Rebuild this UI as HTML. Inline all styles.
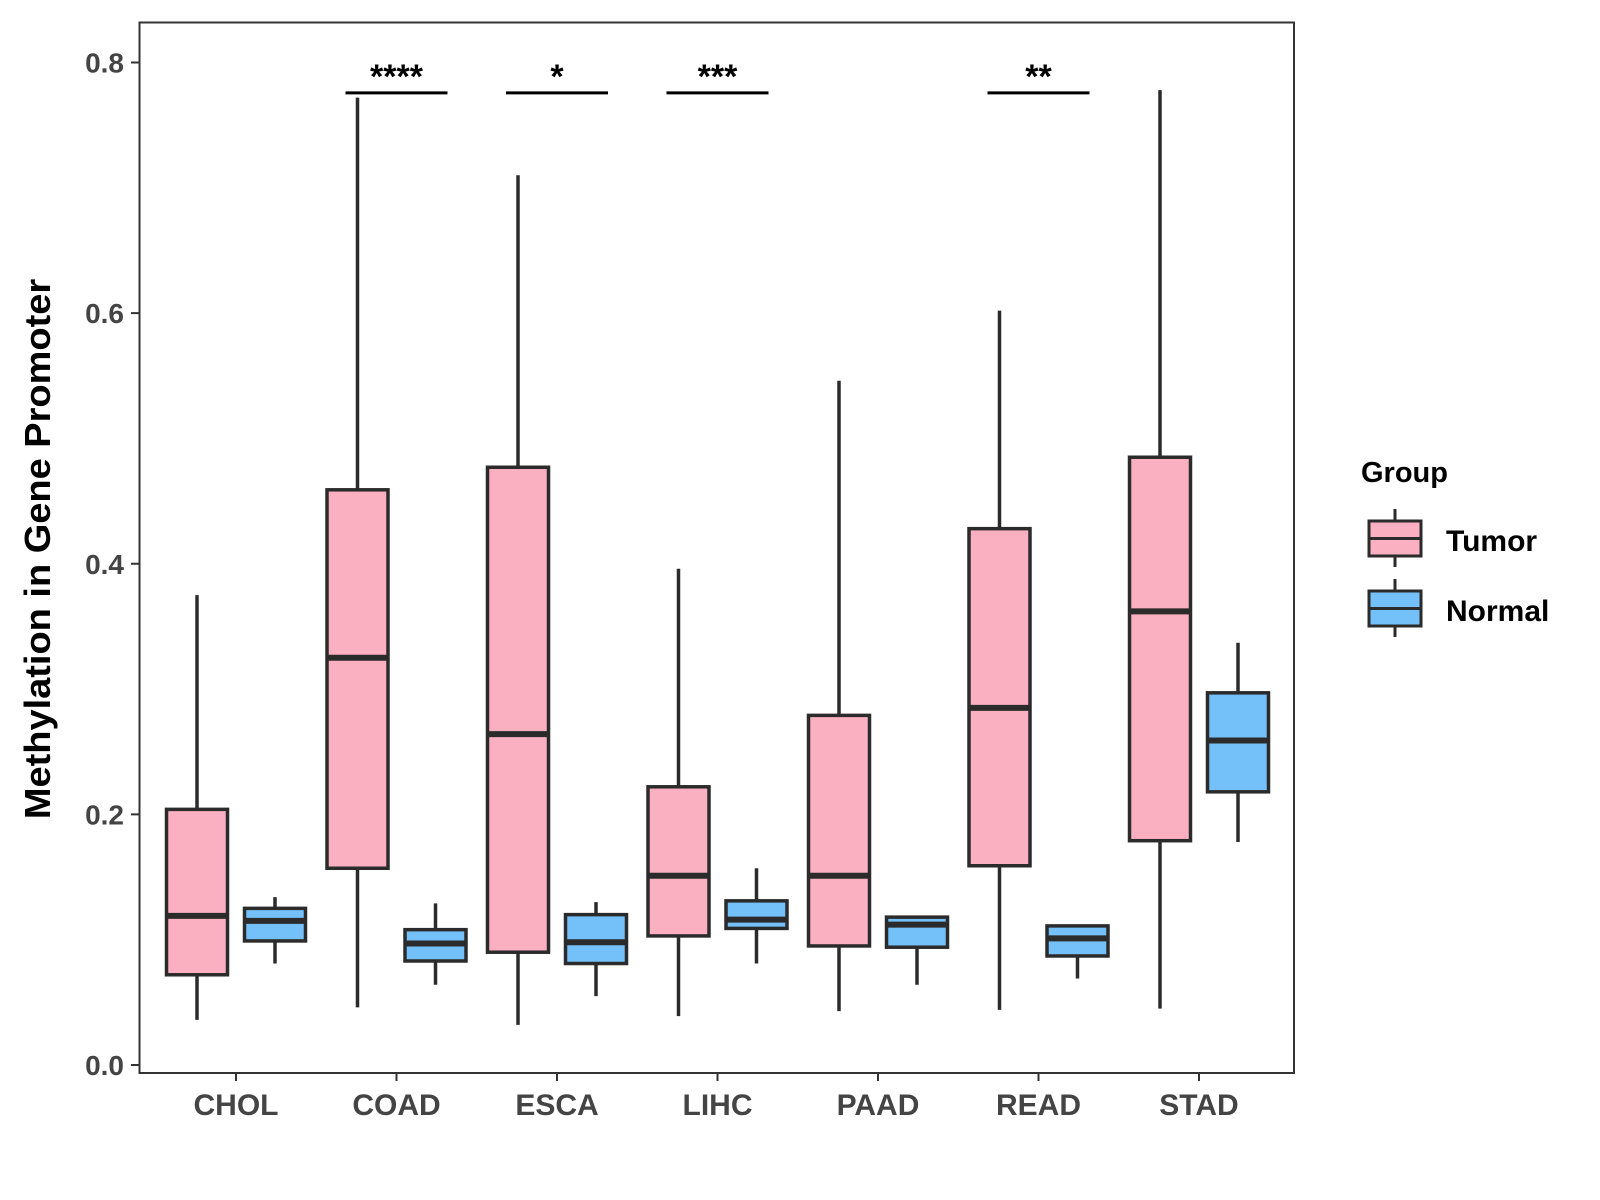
<!DOCTYPE html>
<html><head><meta charset="utf-8"><style>
html,body{margin:0;padding:0;background:#fff;}
svg{display:block;font-family:"Liberation Sans",sans-serif;}
</style></head><body>
<svg id="chart" width="1600" height="1200" viewBox="0 0 1600 1200">
<rect x="139.5" y="22.5" width="1154.5" height="1050.5" fill="#fff" stroke="#333" stroke-width="2"/>
<g id="marks"></g>
<g id="axes"></g>
<text transform="translate(50,549) scale(0.95,1) rotate(-90)" text-anchor="middle" font-size="38" font-weight="bold" fill="#000">Methylation in Gene Promoter</text>
<g transform="translate(-7,0)">
<text x="1368" y="482" font-size="29" font-weight="bold" fill="#000">Group</text>
<g>
<line x1="1402" y1="509" x2="1402" y2="567" stroke="#2b2b2b" stroke-width="3"/>
<rect x="1376" y="521" width="52" height="35" fill="#FBB0C1" stroke="#2b2b2b" stroke-width="3"/>
<line x1="1376" y1="538.5" x2="1428" y2="538.5" stroke="#2b2b2b" stroke-width="3"/>
<text x="1453" y="551" font-size="30" font-weight="bold" fill="#000">Tumor</text>
</g>
<g>
<line x1="1402" y1="579" x2="1402" y2="637" stroke="#2b2b2b" stroke-width="3"/>
<rect x="1376" y="591" width="52" height="35" fill="#74C0F8" stroke="#2b2b2b" stroke-width="3"/>
<line x1="1376" y1="608.5" x2="1428" y2="608.5" stroke="#2b2b2b" stroke-width="3"/>
<text x="1453" y="621" font-size="30" font-weight="bold" fill="#000">Normal</text>
</g>
</g>
</svg>
<script>
const categories = ["CHOL","COAD","ESCA","LIHC","PAAD","READ","STAD"];
// [lower whisker, Q1, median, Q3, upper whisker]
const tumorStats = [
 [0.036,0.072,0.119,0.204,0.375],
 [0.046,0.157,0.325,0.459,0.772],
 [0.032,0.090,0.264,0.477,0.710],
 [0.039,0.103,0.151,0.222,0.396],
 [0.043,0.095,0.151,0.279,0.546],
 [0.044,0.159,0.285,0.428,0.602],
 [0.045,0.179,0.362,0.485,0.778]
];
const normalStats = [
 [0.081,0.099,0.115,0.125,0.134],
 [0.064,0.083,0.097,0.108,0.129],
 [0.055,0.081,0.098,0.120,0.130],
 [0.081,0.109,0.116,0.131,0.157],
 [0.064,0.094,0.112,0.118,0.118],
 [0.069,0.087,0.101,0.111,0.111],
 [0.178,0.218,0.259,0.297,0.337]
];
const yTicks = [0.0,0.2,0.4,0.6,0.8];
const yTickLabels = ["0.0","0.2","0.4","0.6","0.8"];
const sigCategories = ["COAD","ESCA","LIHC","READ"];
const sigLabels = ["****","*","***","**"];
const sigLevel = 0.775;

const NS="http://www.w3.org/2000/svg";
function y(v){return 1065 - v*(1065-62.5)/0.8;}
function x(i){return 236 + i*160.5;}
const BW=61, OFF=39;
const marks=document.getElementById('marks');
const axes=document.getElementById('axes');
function mk(tag,attrs,parent){const e=document.createElementNS(NS,tag);for(const k in attrs)e.setAttribute(k,attrs[k]);parent.appendChild(e);return e;}

function box(cx,s,fill,name){
  const g=mk('g',{},marks);
  
  
  mk('line',{x1:cx,x2:cx,y1:y(s[4]),y2:y(s[0]),stroke:'#2b2b2b','stroke-width':3.5},g);
  mk('rect',{x:cx-BW/2,y:y(s[3]),width:BW,height:y(s[1])-y(s[3]),fill:fill,stroke:'#2b2b2b','stroke-width':3.5},g);
  mk('line',{x1:cx-BW/2,x2:cx+BW/2,y1:y(s[2]),y2:y(s[2]),stroke:'#2b2b2b','stroke-width':6},g);
}
categories.forEach((c,i)=>{
  box(x(i)-OFF,tumorStats[i],'#FBB0C1','box-tumor-'+c.toLowerCase());
  box(x(i)+OFF,normalStats[i],'#74C0F8','box-normal-'+c.toLowerCase());
  const t=mk('line',{x1:x(i),x2:x(i),y1:1073,y2:1081,stroke:'#333','stroke-width':2},axes);
  
  
  const l=mk('text',{x:x(i),y:1115,'text-anchor':'middle','font-size':30,'font-weight':'bold',fill:'#444'},axes);
  l.textContent=c;
  
  
});
yTicks.forEach((v,i)=>{
  const t=mk('line',{x1:131,x2:139.5,y1:y(v),y2:y(v),stroke:'#333','stroke-width':2},axes);
  
  
  const l=mk('text',{x:124,y:y(v)+10,'text-anchor':'end','font-size':28,'font-weight':'bold',fill:'#444'},axes);
  l.textContent=yTickLabels[i];
  
  
});
sigCategories.forEach((c,j)=>{
  const i=categories.indexOf(c);
  const yy=y(sigLevel)-1;
  const b=mk('line',{x1:x(i)-51,x2:x(i)+51,y1:yy,y2:yy,stroke:'#000','stroke-width':3},marks);
  
  
  const t=mk('text',{x:x(i),y:yy-5,'text-anchor':'middle','font-size':34,'font-weight':'bold',fill:'#000'},marks);
  t.textContent=sigLabels[j];
  
  
});
</script>
</body></html>
